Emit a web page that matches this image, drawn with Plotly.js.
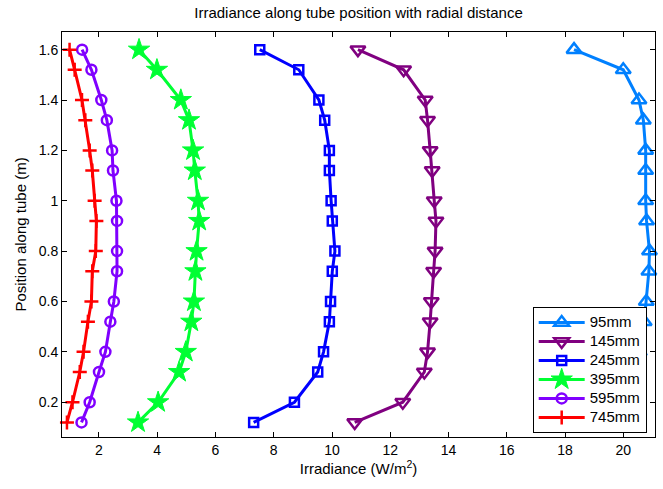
<!DOCTYPE html>
<html>
<head>
<meta charset="utf-8">
<script src="https://cdn.plot.ly/plotly-3.0.1.min.js"></script>
<style>html,body{margin:0;padding:0;background:#fff;}#chart{width:663px;height:489px;}</style>
</head>
<body>
<div id="chart"></div>
<script>
const position = [0.12,0.2,0.32,0.4,0.52,0.6,0.72,0.8,0.92,1.0,1.12,1.2,1.32,1.4,1.52,1.6];
const r95  = [18.3,19.8,20.35,20.55,20.72,20.79,20.88,20.9,20.8,20.77,20.77,20.77,20.69,20.54,20.0,18.31];
const r145 = [10.78,12.43,13.17,13.28,13.37,13.41,13.49,13.54,13.57,13.51,13.44,13.37,13.28,13.2,12.46,10.89];
const r245 = [7.31,8.71,9.51,9.71,9.91,9.95,10.01,10.1,10.01,9.97,9.91,9.91,9.75,9.55,8.86,7.52];
const r395 = [3.34,4.03,4.75,4.98,5.17,5.26,5.31,5.35,5.44,5.4,5.29,5.23,5.09,4.81,3.99,3.375];
const r595 = [1.4,1.68,2.0,2.22,2.39,2.51,2.62,2.62,2.62,2.6,2.48,2.45,2.27,2.08,1.74,1.42];
const r745 = [0.9,1.09,1.34,1.47,1.62,1.74,1.77,1.89,1.91,1.85,1.77,1.68,1.53,1.416,1.165,0.99];
const seriesNames = ['95mm','145mm','245mm','395mm','595mm','745mm'];
const xTicks = [2,4,6,8,10,12,14,16,18,20];
const yTicks = [0.2,0.4,0.6,0.8,1,1.2,1.4,1.6];
const yTickText = ['0.2','0.4','0.6','0.8','1','1.2','1.4','1.6'];

const styles = [
  {color:'#0080FF', symbol:'triangle-up-open', size:13},
  {color:'#800080', symbol:'triangle-down-open', size:13},
  {color:'#0000FF', symbol:'square-open', size:9},
  {color:'#00FF33', symbol:'star', size:16},
  {color:'#8000FF', symbol:'circle-open', size:10},
  {color:'#FF0000', symbol:'cross-thin-open', size:10}
];
const vals = [r95,r145,r245,r395,r595,r745];
const traces = vals.map((v,i)=>({
  x: v, y: position, type:'scatter', mode:'lines+markers',
  name: '<span style="font-size:15px">' + seriesNames[i] + '</span>',
  cliponaxis:false,
  line:{color:styles[i].color, width:3},
  marker:{symbol:styles[i].symbol, size:styles[i].size, color:styles[i].color,
          line:{color:styles[i].color, width: i===3 ? 1 : 2.5}}
}));

const font = {family:'Liberation Sans, Arial, Helvetica, sans-serif', color:'#000'};
const layout = {
  width:663, height:489,
  margin:{l:62, r:8, t:32, b:52},
  paper_bgcolor:'#fff', plot_bgcolor:'#fff',
  font:Object.assign({size:14}, font),
  title:{text:'Irradiance along tube position with radial distance', font:Object.assign({size:15}, font),
         x:0.5, xref:'paper', y:0.973, yanchor:'middle'},
  xaxis:{range:[0.73,21.09], tickvals:xTicks, ticks:'inside', ticklen:5, tickcolor:'#000',
         showline:true, linecolor:'#000', linewidth:1, mirror:'ticks', showgrid:false, zeroline:false,
         tickfont:Object.assign({size:14}, font),
         title:{text:'Irradiance (W/m<sup>2</sup>)', font:Object.assign({size:15}, font), standoff:6}},
  yaxis:{range:[0.062,1.67], tickvals:yTicks, ticktext:yTickText, ticks:'inside', ticklen:5, tickcolor:'#000',
         showline:true, linecolor:'#000', linewidth:1, mirror:'ticks', showgrid:false, zeroline:false,
         tickfont:Object.assign({size:14}, font),
         title:{text:'Position along tube (m)', font:Object.assign({size:15}, font), standoff:8}},
  showlegend:true,
  legend:{x:0.986, y:0.01, xanchor:'right', yanchor:'bottom', bgcolor:'#fff', bordercolor:'#000', borderwidth:1,
          font:Object.assign({size:10.5}, font), tracegroupgap:0, itemwidth:46, itemsizing:'trace'}
};
Plotly.newPlot('chart', traces, layout, {displayModeBar:false, staticPlot:true});
</script>
</body>
</html>
